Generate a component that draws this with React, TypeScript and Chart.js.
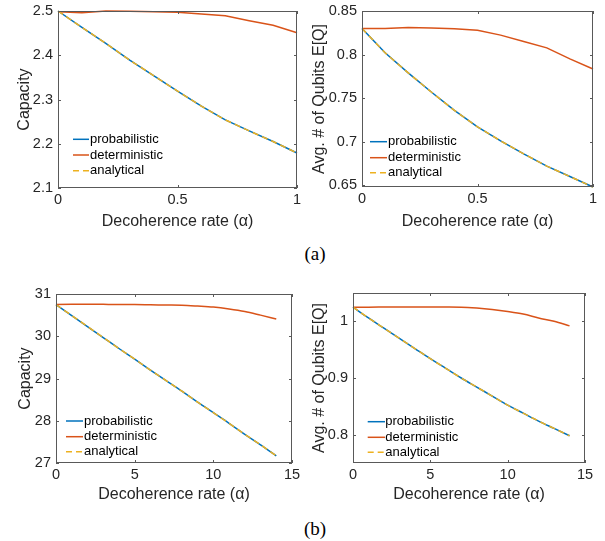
import React, { useEffect, useRef } from "react";
import { Chart, registerables } from "chart.js";
Chart.register(...registerables);

// ---------- data ----------
const ALPHA_A = [0, 0.1, 0.2, 0.3, 0.4, 0.5, 0.6, 0.7, 0.8, 0.9, 1];
const CAP_A_PROB = [2.5, 2.463, 2.427, 2.389, 2.354, 2.319, 2.285, 2.254, 2.229, 2.205, 2.179];
const CAP_A_DET = [2.4985, 2.496, 2.5, 2.4995, 2.4985, 2.497, 2.493, 2.489, 2.478, 2.468, 2.451];
const CAP_A_ANA = [2.5, 2.463, 2.427, 2.389, 2.354, 2.319, 2.285, 2.254, 2.229, 2.205, 2.179];

const EQ_A_PROB = [0.83, 0.802, 0.779, 0.757, 0.736, 0.717, 0.701, 0.686, 0.672, 0.66, 0.648];
const EQ_A_DET = [0.83, 0.83, 0.8311, 0.8304, 0.8296, 0.828, 0.8223, 0.815, 0.8077, 0.795, 0.7835];
const EQ_A_ANA = [0.83, 0.802, 0.779, 0.757, 0.736, 0.717, 0.701, 0.686, 0.672, 0.66, 0.648];

const ALPHA_B = [0, 1, 2, 3, 4, 5, 6, 7, 8, 9, 10, 11, 12, 13, 14];
const CAP_B_PROB = [30.75, 30.49, 30.23, 29.97, 29.71, 29.46, 29.2, 28.95, 28.7, 28.44, 28.19, 27.94, 27.68, 27.43, 27.17];
const CAP_B_DET = [30.75, 30.755, 30.76, 30.755, 30.75, 30.75, 30.745, 30.74, 30.735, 30.715, 30.69, 30.645, 30.585, 30.5, 30.41];
const CAP_B_ANA = [30.75, 30.49, 30.23, 29.97, 29.71, 29.46, 29.2, 28.95, 28.7, 28.44, 28.19, 27.94, 27.68, 27.43, 27.17];

const EQ_B_PROB = [1.025, 1.006, 0.988, 0.97, 0.952, 0.934, 0.917, 0.9, 0.884, 0.868, 0.852, 0.838, 0.824, 0.811, 0.798];
const EQ_B_DET = [1.025, 1.025, 1.0252, 1.0254, 1.0254, 1.0253, 1.0252, 1.025, 1.0235, 1.021, 1.0175, 1.013, 1.006, 1.0, 0.992];
const EQ_B_ANA = [1.025, 1.006, 0.988, 0.97, 0.952, 0.934, 0.917, 0.9, 0.884, 0.868, 0.852, 0.838, 0.824, 0.811, 0.798];

const X_TICKS_A = [0, 0.5, 1];
const X_TICKS_B = [0, 5, 10, 15];
const Y_TICKS_CAP_A = [2.1, 2.2, 2.3, 2.4, 2.5];
const Y_TICKS_EQ_A = [0.65, 0.7, 0.75, 0.8, 0.85];
const Y_TICKS_CAP_B = [27, 28, 29, 30, 31];
const Y_TICKS_EQ_B = [0.8, 0.9, 1];

const SERIES_NAMES = ["probabilistic", "deterministic", "analytical"];
const X_TITLE = "Decoherence rate (α)";
const Y_TITLE_CAP = "Capacity";
const Y_TITLE_EQ = "Avg. # of Qubits E[Q]";

// ---------- styling ----------
const FONT = "'Liberation Sans', Arial, Helvetica, sans-serif";
const BLUE = "#0072BD";
const ORANGE = "#D95319";
const YELLOW = "#EDB120";
const AXIS = "#262626";

type Panel = {
  left: number; top: number; width: number; height: number;
  padTop: number; padRight: number; yWidth: number; xHeight: number;
  xMin: number; xMax: number; yMin: number; yMax: number;
  xTicks: number[]; yTicks: number[];
  xs: number[]; prob: number[]; det: number[]; ana: number[];
  yTitle: string; yTitlePad: number; xTitlePad: number;
  legend: { x0: number; x1: number; tx: number; rows: number[] };
  smooth: boolean;
};

const PANELS: Panel[] = [
  {
    left: 0, top: 0, width: 302, height: 240, padTop: 11, padRight: 5, yWidth: 58, xHeight: 52,
    xMin: 0, xMax: 1, yMin: 2.1, yMax: 2.5, xTicks: X_TICKS_A, yTicks: Y_TICKS_CAP_A,
    xs: ALPHA_A, prob: CAP_A_PROB, det: CAP_A_DET, ana: CAP_A_ANA,
    yTitle: Y_TITLE_CAP, yTitlePad: 15, xTitlePad: 9,
    legend: { x0: 15, x1: 31, tx: 32, rows: [48.7, 33, 17.3] }, smooth: false,
  },
  {
    left: 305, top: 0, width: 300, height: 240, padTop: 11, padRight: 12, yWidth: 57, xHeight: 53,
    xMin: 0, xMax: 1, yMin: 0.648, yMax: 0.85, xTicks: X_TICKS_A, yTicks: Y_TICKS_EQ_A,
    xs: ALPHA_A, prob: EQ_A_PROB, det: EQ_A_DET, ana: EQ_A_ANA,
    yTitle: Y_TITLE_EQ, yTitlePad: 5.4, xTitlePad: 9,
    legend: { x0: 8, x1: 25, tx: 26, rows: [45.3, 29.3, 14.3] }, smooth: false,
  },
  {
    left: 0, top: 270, width: 302, height: 240, padTop: 24, padRight: 10, yWidth: 56, xHeight: 47,
    xMin: 0, xMax: 15, yMin: 27, yMax: 31, xTicks: X_TICKS_B, yTicks: Y_TICKS_CAP_B,
    xs: ALPHA_B, prob: CAP_B_PROB, det: CAP_B_DET, ana: CAP_B_ANA,
    yTitle: Y_TITLE_CAP, yTitlePad: 16.4, xTitlePad: 6,
    legend: { x0: 10, x1: 27, tx: 28, rows: [42, 26.3, 11.3] }, smooth: true,
  },
  {
    left: 305, top: 270, width: 300, height: 240, padTop: 23, padRight: 20, yWidth: 48, xHeight: 47,
    xMin: 0, xMax: 15, yMin: 0.75, yMax: 1.05, xTicks: X_TICKS_B, yTicks: Y_TICKS_EQ_B,
    xs: ALPHA_B, prob: EQ_B_PROB, det: EQ_B_DET, ana: EQ_B_ANA,
    yTitle: Y_TITLE_EQ, yTitlePad: 5.4, xTitlePad: 6,
    legend: { x0: 14.7, x1: 32, tx: 32.3, rows: [41.3, 25.7, 10.7] }, smooth: true,
  },
];

const fmt = (v: number) => String(+Number(v).toFixed(4));

const framePlugin = {
  id: "frame",
  afterDatasetsDraw(chart: any, _args: any, opts: any) {
    const { ctx, chartArea } = chart;
    const { left, top, right, bottom } = chartArea;
    const xs = chart.scales.x;
    const ys = chart.scales.y;
    ctx.save();
    ctx.strokeStyle = "#595959";
    ctx.lineWidth = 1;
    ctx.strokeRect(left + 0.5, top + 0.5, right - left - 1, bottom - top - 1);
    const tl = 3;
    ctx.beginPath();
    xs.ticks.forEach((t: any) => {
      const p = Math.round(xs.getPixelForValue(t.value)) + 0.5;
      ctx.moveTo(p, bottom); ctx.lineTo(p, bottom - tl);
      ctx.moveTo(p, top); ctx.lineTo(p, top + tl);
    });
    ys.ticks.forEach((t: any) => {
      const p = Math.round(ys.getPixelForValue(t.value)) + 0.5;
      ctx.moveTo(left, p); ctx.lineTo(left + tl, p);
      ctx.moveTo(right, p); ctx.lineTo(right - tl, p);
    });
    ctx.stroke();

    // legend (inside the axes, lower-left, no box)
    const lg = opts.legend;
    chart.data.datasets.forEach((ds: any, i: number) => {
      const y = bottom - lg.rows[i];
      ctx.beginPath();
      ctx.strokeStyle = ds.borderColor;
      ctx.lineWidth = ds.borderWidth;
      ctx.setLineDash(ds.borderDash || []);
      ctx.moveTo(left + lg.x0, y);
      ctx.lineTo(left + lg.x1, y);
      ctx.stroke();
      ctx.setLineDash([]);
      ctx.fillStyle = "#000";
      ctx.font = `13px ${FONT}`;
      ctx.textAlign = "left";
      ctx.textBaseline = "middle";
      ctx.fillText(ds.label, left + lg.tx, y);
    });
    ctx.restore();
  },
};

function PanelChart({ p }: { p: Panel }) {
  const ref = useRef<HTMLCanvasElement | null>(null);
  useEffect(() => {
    if (!ref.current) return;
    const mk = (vals: number[]) => p.xs.map((x, i) => ({ x, y: vals[i] }));
    const common = {
      pointRadius: 0,
      borderWidth: 1.5,
      fill: false,
      clip: false as any,
      tension: 0,
      cubicInterpolationMode: p.smooth ? ("monotone" as const) : ("default" as const),
    };
    const chart = new Chart(ref.current, {
      type: "line",
      data: {
        datasets: [
          { ...common, label: SERIES_NAMES[0], data: mk(p.prob), borderColor: BLUE, order: 2 },
          { ...common, label: SERIES_NAMES[1], data: mk(p.det), borderColor: ORANGE, order: 1 },
          { ...common, label: SERIES_NAMES[2], data: mk(p.ana), borderColor: YELLOW, borderDash: [6, 4], order: 0 },
        ],
      },
      options: {
        animation: false,
        responsive: false,
        events: [],
        layout: { padding: { top: p.padTop, right: p.padRight, left: 0, bottom: 0 } },
        plugins: {
          legend: { display: false },
          tooltip: { enabled: false },
          frame: { legend: p.legend },
        } as any,
        scales: {
          x: {
            type: "linear",
            min: p.xMin,
            max: p.xMax,
            afterBuildTicks: (s: any) => { s.ticks = p.xTicks.map((v) => ({ value: v })); },
            afterFit: (s: any) => {
              s.height = p.xHeight;
              s.paddingLeft = 0; s.paddingRight = 0; s.paddingTop = 0; s.paddingBottom = 0;
            },
            grid: { display: false, drawTicks: false },
            border: { display: false },
            ticks: {
              padding: 3, color: AXIS, autoSkip: false, maxRotation: 0,
              font: { family: FONT, size: 14.5 },
              callback: (v: any) => fmt(v),
            },
            title: {
              display: true, text: X_TITLE, color: AXIS,
              font: { family: FONT, size: 16 },
              padding: { top: 0, bottom: p.xTitlePad },
            },
          },
          y: {
            type: "linear",
            min: p.yMin,
            max: p.yMax,
            afterBuildTicks: (s: any) => { s.ticks = p.yTicks.map((v) => ({ value: v })); },
            afterFit: (s: any) => {
              s.width = p.yWidth;
              s.paddingLeft = 0; s.paddingRight = 0; s.paddingTop = 0; s.paddingBottom = 0;
            },
            grid: { display: false, drawTicks: false },
            border: { display: false },
            ticks: {
              padding: 5, color: AXIS, autoSkip: false,
              font: { family: FONT, size: 14.5 },
              callback: (v: any) => fmt(v),
            },
            title: {
              display: true, text: p.yTitle, color: AXIS,
              font: { family: FONT, size: 16 },
              padding: { top: p.yTitlePad, bottom: 0 },
            },
          },
        },
      },
      plugins: [framePlugin as any],
    });
    return () => chart.destroy();
  }, [p]);
  return (
    <canvas
      ref={ref}
      width={p.width}
      height={p.height}
      style={{ position: "absolute", left: p.left, top: p.top, width: p.width, height: p.height }}
    />
  );
}

const capStyle = (top: number): React.CSSProperties => ({
  position: "absolute",
  left: 265,
  top,
  width: 100,
  textAlign: "center",
  fontFamily: "'Liberation Serif', 'Times New Roman', serif",
  fontSize: 19,
  lineHeight: "20px",
  color: "#000",
});

export default function App() {
  return (
    <div style={{ position: "absolute", left: 0, top: 0, width: 605, height: 541, background: "#fff", overflow: "hidden" }}>
      {PANELS.map((p, i) => (
        <PanelChart key={i} p={p} />
      ))}
      <div style={capStyle(244)}>(a)</div>
      <div style={capStyle(519)}>(b)</div>
    </div>
  );
}
